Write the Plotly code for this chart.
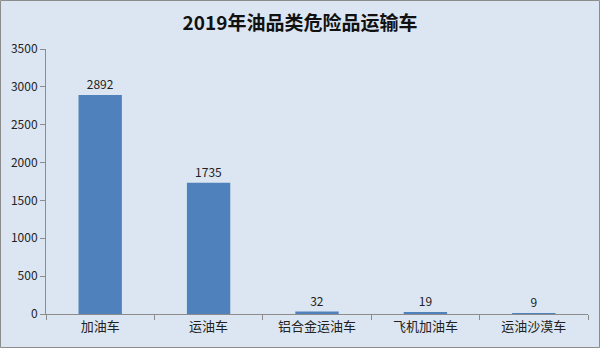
import plotly.graph_objects as go

categories = ["加油车", "运油车", "铝合金运油车", "飞机加油车", "运油沙漠车"]
values = [2892, 1735, 32, 19, 9]
title_text = "2019年油品类危险品运输车"

W, H = 600, 348
ml, mr, mt, mb = 46, 12, 49, 34
pw, ph = W - ml - mr, H - mt - mb

fig = go.Figure(go.Bar(
    x=categories, y=values,
    marker=dict(color="#4F81BD", line=dict(width=0)),
    text=[str(v) for v in values], textposition="outside",
    textfont=dict(size=12, color="#222222"),
    cliponaxis=False,
))

font = "Noto Sans CJK SC, Liberation Sans, sans-serif"
fig.update_layout(
    width=W, height=H,
    margin=dict(l=ml, r=mr, t=mt, b=mb),
    paper_bgcolor="#DCE6F2", plot_bgcolor="#DCE6F2",
    font=dict(family=font, size=12, color="#222222"),
    title=dict(text="<b>" + title_text + "</b>", x=0.5, xanchor="center",
               y=1 - 23 / H, yanchor="middle", font=dict(size=19, color="#111111")),
    bargap=0.6, showlegend=False,
    xaxis=dict(showline=True, linecolor="#8C8C8C", linewidth=1,
               ticks="outside", tickcolor="#8C8C8C", ticklen=5,
               tickson="boundaries", showgrid=False,
               tickfont=dict(size=13, color="#222222")),
    yaxis=dict(range=[0, 3500], dtick=500, showline=True, linecolor="#8C8C8C",
               linewidth=1, ticks="outside", tickcolor="#8C8C8C", ticklen=5,
               showgrid=False, zeroline=False,
               tickfont=dict(size=12, color="#222222")),
    shapes=[dict(type="rect", xref="paper", yref="paper",
                 x0=(0.5 - ml) / pw, x1=(W - 0.5 - ml) / pw,
                 y0=-(mb - 0.5) / ph, y1=1 + (mt - 0.5) / ph,
                 line=dict(color="#8C8C8C", width=1), layer="below")],
)

fig.write_html("out.html")
